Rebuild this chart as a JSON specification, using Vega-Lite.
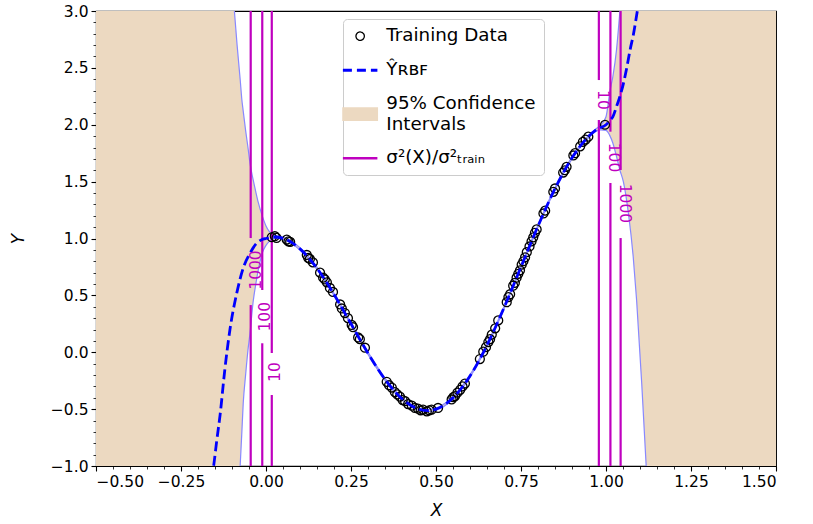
{
  "$schema": "https://vega.github.io/schema/vega-lite/v6.json",
  "width": 680,
  "height": 455,
  "autosize": {"type": "none"},
  "padding": {"left": 96, "top": 11, "right": 37, "bottom": 58},
  "background": "white",
  "config": {
    "view": {"stroke": "black", "strokeWidth": 1.1},
    "axis": {
      "labelFont": "DejaVu Sans", "labelFontSize": 15.5, "labelColor": "black",
      "tickColor": "black", "tickWidth": 1.1, "domain": false, "grid": false,
      "titleFont": "DejaVu Sans", "titleFontSize": 17, "titleFontWeight": "normal",
      "titleFontStyle": "italic", "titleColor": "black"
    }
  },
  "datasets": {
    "band": [
      {"x": -0.5, "lo": -20, "hi": 20},
      {"x": -0.3, "lo": -12, "hi": 12},
      {"x": -0.16, "lo": -7, "hi": 6},
      {"x": -0.12, "lo": -4, "hi": 4.2},
      {"x": -0.1, "lo": -2.5, "hi": 3.3},
      {"x": -0.093, "lo": -2.0, "hi": 3.0},
      {"x": -0.085, "lo": -1.5, "hi": 2.7},
      {"x": -0.076, "lo": -1.0, "hi": 2.4},
      {"x": -0.071, "lo": -0.7, "hi": 2.22},
      {"x": -0.067, "lo": -0.45, "hi": 2.12},
      {"x": -0.06, "lo": -0.2, "hi": 1.95},
      {"x": -0.053, "lo": 0.02, "hi": 1.8},
      {"x": -0.047, "lo": 0.17, "hi": 1.66},
      {"x": -0.038, "lo": 0.44, "hi": 1.52},
      {"x": -0.03, "lo": 0.6, "hi": 1.41},
      {"x": -0.023, "lo": 0.72, "hi": 1.32},
      {"x": -0.01, "lo": 0.88, "hi": 1.19},
      {"x": 0.0, "lo": 0.94, "hi": 1.11},
      {"x": 0.01, "lo": 0.975, "hi": 1.06},
      {"x": 0.02, "lo": 0.998, "hi": 1.035},
      {"x": 0.03, "lo": 1.003, "hi": 1.023},
      {"x": 0.05, "lo": 0.991, "hi": 1.011},
      {"x": 0.1, "lo": 0.899, "hi": 0.919},
      {"x": 0.15, "lo": 0.728, "hi": 0.748},
      {"x": 0.2, "lo": 0.499, "hi": 0.519},
      {"x": 0.25, "lo": 0.24, "hi": 0.26},
      {"x": 0.3, "lo": -0.019, "hi": 0.001},
      {"x": 0.35, "lo": -0.248, "hi": -0.228},
      {"x": 0.4, "lo": -0.419, "hi": -0.399},
      {"x": 0.45, "lo": -0.511, "hi": -0.491},
      {"x": 0.475, "lo": -0.523, "hi": -0.503},
      {"x": 0.5, "lo": -0.51, "hi": -0.49},
      {"x": 0.55, "lo": -0.411, "hi": -0.391},
      {"x": 0.6, "lo": -0.219, "hi": -0.199},
      {"x": 0.65, "lo": 0.052, "hi": 0.072},
      {"x": 0.7, "lo": 0.381, "hi": 0.401},
      {"x": 0.75, "lo": 0.74, "hi": 0.76},
      {"x": 0.8, "lo": 1.099, "hi": 1.119},
      {"x": 0.85, "lo": 1.428, "hi": 1.448},
      {"x": 0.9, "lo": 1.699, "hi": 1.719},
      {"x": 0.95, "lo": 1.89, "hi": 1.91},
      {"x": 0.97, "lo": 1.942, "hi": 1.962},
      {"x": 0.985, "lo": 1.955, "hi": 2.0},
      {"x": 1.0, "lo": 1.95, "hi": 2.07},
      {"x": 1.012, "lo": 1.9, "hi": 2.3},
      {"x": 1.02, "lo": 1.84, "hi": 2.42},
      {"x": 1.031, "lo": 1.72, "hi": 2.66},
      {"x": 1.041, "lo": 1.6, "hi": 3.0},
      {"x": 1.051, "lo": 1.5, "hi": 3.35},
      {"x": 1.066, "lo": 1.22, "hi": 4.0},
      {"x": 1.08, "lo": 0.84, "hi": 4.7},
      {"x": 1.09, "lo": 0.46, "hi": 5.3},
      {"x": 1.105, "lo": -0.27, "hi": 6.2},
      {"x": 1.118, "lo": -0.99, "hi": 7},
      {"x": 1.13, "lo": -1.7, "hi": 8},
      {"x": 1.2, "lo": -5, "hi": 12},
      {"x": 1.5, "lo": -20, "hi": 20}
    ],
    "mean": [
      {"x": -0.165, "y": -1.25}, {"x": -0.16, "y": -1.12}, {"x": -0.154, "y": -1.0},
      {"x": -0.145, "y": -0.78}, {"x": -0.135, "y": -0.55}, {"x": -0.121, "y": -0.15},
      {"x": -0.106, "y": 0.2}, {"x": -0.086, "y": 0.52}, {"x": -0.067, "y": 0.74},
      {"x": -0.047, "y": 0.87}, {"x": -0.03, "y": 0.95}, {"x": -0.013, "y": 0.99},
      {"x": 0.0, "y": 1.0}, {"x": 0.025, "y": 1.013}, {"x": 0.05, "y": 1.001},
      {"x": 0.075, "y": 0.966}, {"x": 0.1, "y": 0.909}, {"x": 0.15, "y": 0.738},
      {"x": 0.2, "y": 0.509}, {"x": 0.25, "y": 0.25}, {"x": 0.3, "y": -0.009},
      {"x": 0.35, "y": -0.238}, {"x": 0.4, "y": -0.409}, {"x": 0.45, "y": -0.501},
      {"x": 0.475, "y": -0.513}, {"x": 0.5, "y": -0.5}, {"x": 0.55, "y": -0.401},
      {"x": 0.6, "y": -0.209}, {"x": 0.65, "y": 0.062}, {"x": 0.7, "y": 0.391},
      {"x": 0.75, "y": 0.75}, {"x": 0.8, "y": 1.109}, {"x": 0.85, "y": 1.438},
      {"x": 0.9, "y": 1.709}, {"x": 0.95, "y": 1.901}, {"x": 0.975, "y": 1.963},
      {"x": 1.0, "y": 2.0}, {"x": 1.012, "y": 2.04}, {"x": 1.02, "y": 2.07},
      {"x": 1.031, "y": 2.16}, {"x": 1.041, "y": 2.25}, {"x": 1.051, "y": 2.36},
      {"x": 1.061, "y": 2.5}, {"x": 1.071, "y": 2.66}, {"x": 1.081, "y": 2.8},
      {"x": 1.09, "y": 2.96}, {"x": 1.1, "y": 3.15}
    ],
    "train": [
      {"x": 0.017, "y": 1.011}, {"x": 0.026, "y": 1.02}, {"x": 0.031, "y": 1.005},
      {"x": 0.061, "y": 0.99}, {"x": 0.066, "y": 0.975}, {"x": 0.071, "y": 0.97},
      {"x": 0.12, "y": 0.855}, {"x": 0.124, "y": 0.83}, {"x": 0.129, "y": 0.82},
      {"x": 0.138, "y": 0.79}, {"x": 0.159, "y": 0.7}, {"x": 0.168, "y": 0.655},
      {"x": 0.173, "y": 0.64}, {"x": 0.179, "y": 0.615}, {"x": 0.188, "y": 0.565},
      {"x": 0.197, "y": 0.53}, {"x": 0.218, "y": 0.42}, {"x": 0.223, "y": 0.385},
      {"x": 0.232, "y": 0.345}, {"x": 0.241, "y": 0.3}, {"x": 0.252, "y": 0.24},
      {"x": 0.256, "y": 0.22}, {"x": 0.271, "y": 0.13}, {"x": 0.276, "y": 0.115},
      {"x": 0.291, "y": 0.04}, {"x": 0.355, "y": -0.26}, {"x": 0.362, "y": -0.29},
      {"x": 0.37, "y": -0.31}, {"x": 0.379, "y": -0.35}, {"x": 0.386, "y": -0.37},
      {"x": 0.394, "y": -0.39}, {"x": 0.402, "y": -0.42}, {"x": 0.409, "y": -0.43},
      {"x": 0.418, "y": -0.455}, {"x": 0.429, "y": -0.47}, {"x": 0.438, "y": -0.49},
      {"x": 0.447, "y": -0.495}, {"x": 0.455, "y": -0.51}, {"x": 0.462, "y": -0.505},
      {"x": 0.473, "y": -0.52}, {"x": 0.48, "y": -0.51}, {"x": 0.487, "y": -0.505},
      {"x": 0.506, "y": -0.49}, {"x": 0.546, "y": -0.415}, {"x": 0.551, "y": -0.395},
      {"x": 0.556, "y": -0.385}, {"x": 0.563, "y": -0.355}, {"x": 0.571, "y": -0.33},
      {"x": 0.578, "y": -0.3}, {"x": 0.585, "y": -0.275}, {"x": 0.629, "y": -0.06},
      {"x": 0.639, "y": 0.005}, {"x": 0.647, "y": 0.045}, {"x": 0.654, "y": 0.09},
      {"x": 0.659, "y": 0.115}, {"x": 0.664, "y": 0.155}, {"x": 0.674, "y": 0.21},
      {"x": 0.683, "y": 0.28}, {"x": 0.708, "y": 0.44}, {"x": 0.713, "y": 0.485},
      {"x": 0.718, "y": 0.51}, {"x": 0.727, "y": 0.585}, {"x": 0.732, "y": 0.61},
      {"x": 0.737, "y": 0.655}, {"x": 0.742, "y": 0.69}, {"x": 0.747, "y": 0.72},
      {"x": 0.752, "y": 0.77}, {"x": 0.757, "y": 0.8}, {"x": 0.762, "y": 0.835},
      {"x": 0.767, "y": 0.88}, {"x": 0.775, "y": 0.93}, {"x": 0.781, "y": 0.975},
      {"x": 0.786, "y": 1.01}, {"x": 0.791, "y": 1.05}, {"x": 0.796, "y": 1.08},
      {"x": 0.816, "y": 1.22}, {"x": 0.821, "y": 1.245}, {"x": 0.845, "y": 1.41},
      {"x": 0.85, "y": 1.44}, {"x": 0.874, "y": 1.58}, {"x": 0.879, "y": 1.6},
      {"x": 0.884, "y": 1.63}, {"x": 0.904, "y": 1.73}, {"x": 0.909, "y": 1.75},
      {"x": 0.924, "y": 1.81}, {"x": 0.932, "y": 1.85}, {"x": 0.94, "y": 1.87},
      {"x": 0.948, "y": 1.895}, {"x": 0.997, "y": 2.0}
    ],
    "contours": [
      {"x": -0.045, "y1": 3.0, "y2": 1.004}, {"x": -0.045, "y1": 0.415, "y2": -1.0},
      {"x": -0.011, "y1": 3.0, "y2": 0.547}, {"x": -0.011, "y1": 0.079, "y2": -1.0},
      {"x": 0.017, "y1": 3.0, "y2": -0.007}, {"x": 0.017, "y1": -0.376, "y2": -1.0},
      {"x": 0.979, "y1": 3.0, "y2": 2.393}, {"x": 0.979, "y1": 2.042, "y2": -1.0},
      {"x": 1.013, "y1": 3.0, "y2": 1.939}, {"x": 1.013, "y1": 1.488, "y2": -1.0},
      {"x": 1.043, "y1": 3.0, "y2": 1.602}, {"x": 1.043, "y1": 1.004, "y2": -1.0}
    ],
    "labels": [
      {"x": -0.03, "y": 0.723, "text": "1000"},
      {"x": -0.002, "y": 0.3125, "text": "100"},
      {"x": 0.026, "y": -0.174, "text": "10"},
      {"x": 0.99, "y": 2.218, "text": "10"},
      {"x": 1.0235, "y": 1.712, "text": "100"},
      {"x": 1.057, "y": 1.308, "text": "1000"}
    ]
  },
  "layer": [
    {
      "data": {"name": "band"},
      "mark": {"type": "area", "clip": true, "interpolate": "monotone"},
      "encoding": {
        "x": {"field": "x", "type": "quantitative",
          "scale": {"domain": [-0.5, 1.5], "nice": false, "zero": false},
          "axis": {"values": [-0.5, -0.25, 0, 0.25, 0.5, 0.75, 1, 1.25, 1.5], "format": ".2f", "tickSize": 5, "labelPadding": 3, "title": "X", "titlePadding": 13, "orient": "bottom"}},
        "y": {"field": "lo", "type": "quantitative",
          "scale": {"domain": [-1, 3], "nice": false, "zero": false},
          "axis": {"values": [-1, -0.5, 0, 0.5, 1, 1.5, 2, 2.5, 3], "format": ".1f", "tickSize": 5, "labelPadding": 3, "title": "Y", "titlePadding": 23, "orient": "left"}},
        "y2": {"field": "hi"},
        "color": {"datum": "95% Confidence Intervals", "type": "nominal",
          "scale": {"domain": ["Training Data", "Ŷʀʙꜰ", "95% Confidence Intervals", "σ²(X)/σ²ₜᵣₐᵢₙ"], "range": ["black", "#0000ff", "#ecd9c1", "#bf00bf"]},
          "legend": {
            "title": null, "orient": "none", "legendX": 247, "legendY": 8,
            "fillColor": "white", "strokeColor": "#cccccc", "cornerRadius": 4, "padding": 8,
            "labelFont": "DejaVu Sans", "labelFontSize": 18.3, "labelColor": "black",
            "labelOffset": 17, "rowPadding": 15, "symbolSize": 1190, "labelLimit": 300,
            "labelExpr": "datum.value === '95% Confidence Intervals' ? ['95% Confidence', 'Intervals'] : datum.label",
            "encode": {
              "labels": {"update": {
                "lineHeight": {"value": 20.5},
                "dy": {"signal": "datum.value === '95% Confidence Intervals' ? -10 : 0"}
              }},
              "symbols": {"update": {
                "shape": {"signal": "datum.value === 'Training Data' ? 'circle' : datum.value === '95% Confidence Intervals' ? 'M-1,-0.36H1V0.36H-1Z' : 'stroke'"},
                "size": {"signal": "datum.value === 'Training Data' ? 70 : 1190"},
                "fill": {"signal": "datum.value === '95% Confidence Intervals' ? '#ecd9c1' : 'transparent'"},
                "fillOpacity": {"signal": "datum.value === '95% Confidence Intervals' ? 1 : 0"},
                "stroke": {"signal": "datum.value === 'Training Data' ? 'black' : datum.value === '95% Confidence Intervals' ? '#8888ff' : datum.value === 'σ²(X)/σ²ₜᵣₐᵢₙ' ? '#bf00bf' : '#0000ff'"},
                "strokeDash": {"signal": "datum.value === 'Ŷʀʙꜰ' ? [9, 5] : [1, 0]"},
                "strokeWidth": {"signal": "datum.value === 'Ŷʀʙꜰ' ? 3 : datum.value === 'σ²(X)/σ²ₜᵣₐᵢₙ' ? 2.5 : 1.3"},
                "opacity": {"value": 1}
              }}
            }
          }}
      }
    },
    {
      "data": {"name": "band"},
      "mark": {"type": "line", "clip": true, "interpolate": "monotone", "color": "#8888ff", "strokeWidth": 1.2},
      "encoding": {
        "x": {"field": "x", "type": "quantitative", "axis": null},
        "y": {"field": "hi", "type": "quantitative", "axis": null}
      }
    },
    {
      "data": {"name": "band"},
      "mark": {"type": "line", "clip": true, "interpolate": "monotone", "color": "#8888ff", "strokeWidth": 1.2},
      "encoding": {
        "x": {"field": "x", "type": "quantitative", "axis": null},
        "y": {"field": "lo", "type": "quantitative", "axis": null}
      }
    },
    {
      "data": {"name": "contours"},
      "mark": {"type": "rule", "strokeWidth": 2.2, "clip": true},
      "encoding": {
        "x": {"field": "x", "type": "quantitative",
          "axis": {"values": [-0.45, -0.4, -0.35, -0.3, -0.2, -0.15, -0.1, -0.05, 0.05, 0.1, 0.15, 0.2, 0.3, 0.35, 0.4, 0.45, 0.55, 0.6, 0.65, 0.7, 0.8, 0.85, 0.9, 0.95, 1.05, 1.1, 1.15, 1.2, 1.3, 1.35, 1.4, 1.45], "labels": false, "tickSize": 3, "tickWidth": 0.8, "title": null, "orient": "bottom"}},
        "y": {"field": "y1", "type": "quantitative",
          "axis": {"values": [-0.9, -0.8, -0.7, -0.6, -0.4, -0.3, -0.2, -0.1, 0.1, 0.2, 0.3, 0.4, 0.6, 0.7, 0.8, 0.9, 1.1, 1.2, 1.3, 1.4, 1.6, 1.7, 1.8, 1.9, 2.1, 2.2, 2.3, 2.4, 2.6, 2.7, 2.8, 2.9], "labels": false, "tickSize": 3, "tickWidth": 0.8, "title": null, "orient": "left"}},
        "y2": {"field": "y2"},
        "color": {"datum": "σ²(X)/σ²ₜᵣₐᵢₙ", "type": "nominal"}
      }
    },
    {
      "data": {"name": "train"},
      "mark": {"type": "point", "filled": false, "size": 80, "strokeWidth": 1.3, "opacity": 1},
      "encoding": {
        "x": {"field": "x", "type": "quantitative", "axis": null},
        "y": {"field": "y", "type": "quantitative", "axis": null},
        "color": {"datum": "Training Data", "type": "nominal"}
      }
    },
    {
      "data": {"name": "mean"},
      "mark": {"type": "line", "clip": true, "interpolate": "monotone", "strokeWidth": 2.8, "strokeDash": [10, 4.5]},
      "encoding": {
        "x": {"field": "x", "type": "quantitative", "axis": null},
        "y": {"field": "y", "type": "quantitative", "axis": null},
        "color": {"datum": "Ŷʀʙꜰ", "type": "nominal"}
      }
    },
    {
      "data": {"name": "labels"},
      "mark": {"type": "text", "font": "DejaVu Sans", "fontSize": 15.5, "color": "#bf00bf", "align": "center", "baseline": "middle"},
      "encoding": {
        "x": {"field": "x", "type": "quantitative", "axis": null},
        "y": {"field": "y", "type": "quantitative", "axis": null},
        "text": {"field": "text"},
        "angle": {"condition": {"test": "datum.x < 0.5", "value": 270}, "value": 90}
      }
    }
  ],
  "resolve": {"axis": {"x": "independent", "y": "independent"}}
}
